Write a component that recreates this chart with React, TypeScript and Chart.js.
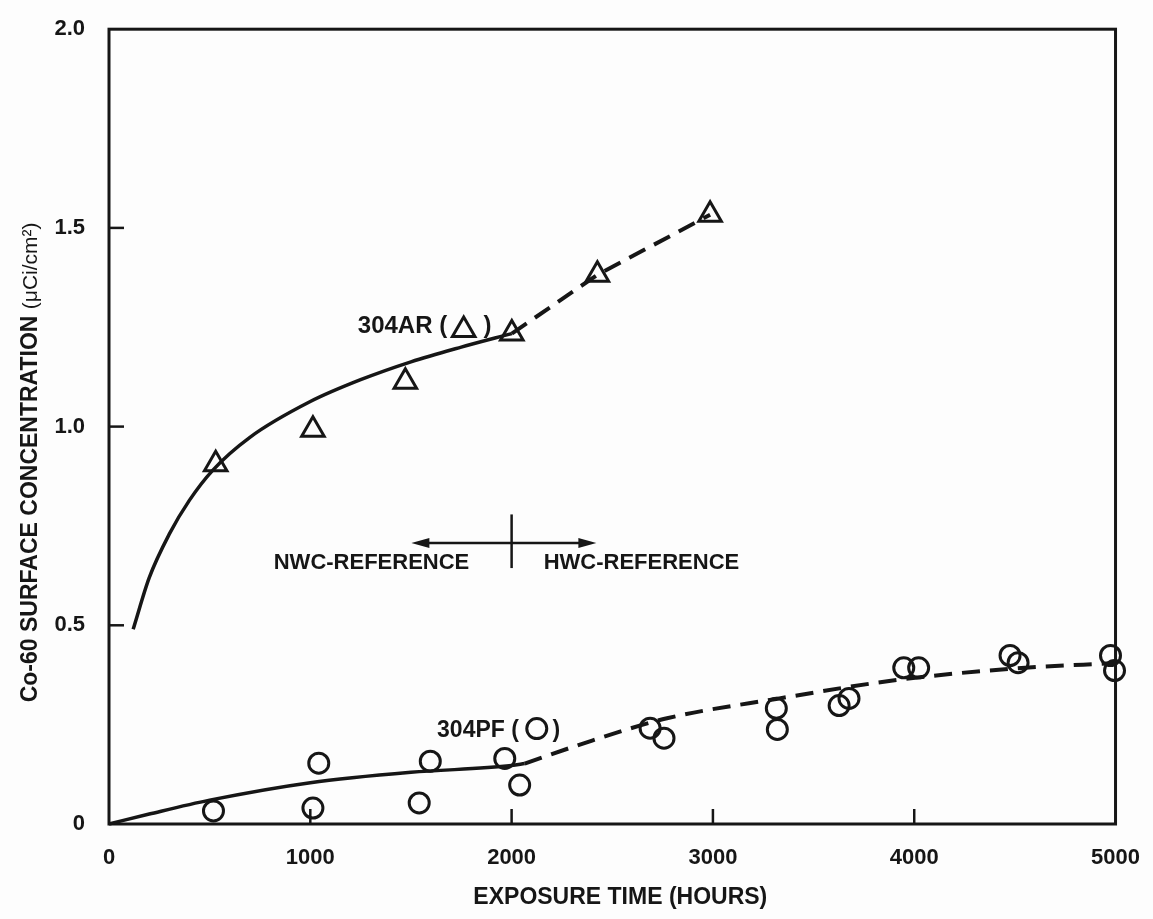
import React, { useEffect, useRef } from "react";
import { Chart, registerables } from "chart.js";

Chart.register(...registerables);

const INK = "#161616";
const FONT = '"Liberation Sans", Arial, sans-serif';

// Axis ticks
const xTickValues = [0, 1000, 2000, 3000, 4000, 5000];
const yTickValues = [0, 0.5, 1.0, 1.5, 2.0];
const xInnerTicks = [1000, 2000, 3000, 4000];
const yInnerTicks = [0.5, 1.0, 1.5];

// 304AR measured points (triangles)
const arHours = [530, 1013, 1472, 2001, 2426, 2986];
const arConc = [0.905, 0.992, 1.113, 1.234, 1.382, 1.533];

// 304AR fitted curve, NWC period (solid)
const arNwcHours = [120, 200, 300, 400, 515, 700, 1000, 1250, 1500, 1750, 2001];
const arNwcConc = [0.49, 0.62, 0.73, 0.815, 0.89, 0.973, 1.063, 1.118, 1.163, 1.2, 1.234];

// 304AR HWC period (dashed)
const arHwcHours = [2001, 2426, 2986];
const arHwcConc = [1.234, 1.382, 1.533];

// 304PF measured points (circles)
const pfHours = [519, 1042, 1013, 1596, 1541, 1966, 2040, 2688, 2757, 3315, 3320, 3627, 3676, 3948, 4022, 4476, 4516, 4975, 4995];
const pfConc = [0.033, 0.153, 0.04, 0.158, 0.053, 0.165, 0.098, 0.241, 0.216, 0.291, 0.238, 0.298, 0.316, 0.393, 0.393, 0.424, 0.406, 0.424, 0.386];

// 304PF fitted curve, NWC period (solid)
const pfNwcHours = [0, 200, 500, 1000, 1500, 2000, 2065];
const pfNwcConc = [0, 0.025, 0.06, 0.104, 0.13, 0.147, 0.152];

// 304PF HWC period (dashed)
const pfHwcHours = [2065, 2400, 2772, 3330, 3893, 4486, 5000];
const pfHwcConc = [0.152, 0.21, 0.266, 0.316, 0.361, 0.391, 0.405];

const toXY = (xs: number[], ys: number[]) => xs.map((x, i) => ({ x, y: ys[i] }));

function drawTriangle(ctx: CanvasRenderingContext2D, cx: number, cy: number, r: number) {
  ctx.beginPath();
  for (let k = 0; k < 3; k++) {
    const a = (k * 2 * Math.PI) / 3;
    const px = cx + Math.sin(a) * r;
    const py = cy - Math.cos(a) * r;
    if (k === 0) ctx.moveTo(px, py);
    else ctx.lineTo(px, py);
  }
  ctx.closePath();
  ctx.stroke();
}

const overlay = {
  id: "overlay",
  beforeDatasetsDraw(chart: any) {
    const { ctx, chartArea: a, scales } = chart;
    const x = scales.x;
    const y = scales.y;
    ctx.save();
    ctx.strokeStyle = INK;
    ctx.lineWidth = 3;
    ctx.strokeRect(a.left, a.top, a.right - a.left, a.bottom - a.top);
    ctx.lineWidth = 2.5;
    for (const v of xInnerTicks) {
      const px = x.getPixelForValue(v);
      ctx.beginPath();
      ctx.moveTo(px, a.bottom);
      ctx.lineTo(px, a.bottom - 15);
      ctx.stroke();
    }
    for (const v of yInnerTicks) {
      const py = y.getPixelForValue(v);
      ctx.beginPath();
      ctx.moveTo(a.left, py);
      ctx.lineTo(a.left + 15, py);
      ctx.stroke();
    }
    ctx.restore();
  },
  afterDatasetsDraw(chart: any) {
    const { ctx, chartArea: a, scales } = chart;
    const x = scales.x;
    const y = scales.y;
    ctx.save();
    ctx.fillStyle = INK;
    ctx.strokeStyle = INK;

    // Y axis title
    {
      const boldPart = "Co-60 SURFACE CONCENTRATION ";
      const lightPart = "(\u03bcCi/cm\u00b2)";
      ctx.save();
      ctx.translate(a.left - 78, y.getPixelForValue(0.91));
      ctx.rotate(-Math.PI / 2);
      ctx.textBaseline = "middle";
      ctx.textAlign = "left";
      ctx.font = `bold 23px ${FONT}`;
      const wb = ctx.measureText(boldPart).width;
      ctx.font = `21px ${FONT}`;
      const wl = ctx.measureText(lightPart).width;
      const start = -(wb + wl) / 2;
      ctx.font = `bold 23px ${FONT}`;
      ctx.fillText(boldPart, start, 0);
      ctx.font = `21px ${FONT}`;
      ctx.fillText(lightPart, start + wb, 0);
      ctx.restore();
    }

    // X axis title
    ctx.font = `bold 23px ${FONT}`;
    ctx.textAlign = "center";
    ctx.textBaseline = "middle";
    ctx.fillText("EXPOSURE TIME (HOURS)", x.getPixelForValue(2540), a.bottom + 74);

    // NWC / HWC reference annotation
    ctx.font = `bold 22px ${FONT}`;
    ctx.fillText("NWC-REFERENCE", x.getPixelForValue(1304), y.getPixelForValue(0.657));
    ctx.fillText("HWC-REFERENCE", x.getPixelForValue(2645), y.getPixelForValue(0.657));
    ctx.lineWidth = 2.5;
    const ay = y.getPixelForValue(0.707);
    const ax1 = x.getPixelForValue(1502);
    const ax2 = x.getPixelForValue(2421);
    ctx.beginPath();
    ctx.moveTo(ax1 + 10, ay);
    ctx.lineTo(ax2 - 10, ay);
    ctx.stroke();
    ctx.beginPath();
    ctx.moveTo(ax1, ay);
    ctx.lineTo(ax1 + 18, ay - 5);
    ctx.lineTo(ax1 + 18, ay + 5);
    ctx.closePath();
    ctx.fill();
    ctx.beginPath();
    ctx.moveTo(ax2, ay);
    ctx.lineTo(ax2 - 18, ay - 5);
    ctx.lineTo(ax2 - 18, ay + 5);
    ctx.closePath();
    ctx.fill();
    const vx = x.getPixelForValue(2000);
    ctx.beginPath();
    ctx.moveTo(vx, y.getPixelForValue(0.779));
    ctx.lineTo(vx, y.getPixelForValue(0.644));
    ctx.stroke();

    // Series labels
    ctx.font = `bold 24px ${FONT}`;
    ctx.textAlign = "right";
    ctx.fillText("304AR (", x.getPixelForValue(1680), y.getPixelForValue(1.253));
    ctx.textAlign = "center";
    ctx.fillText(")", x.getPixelForValue(1880), y.getPixelForValue(1.253));
    ctx.lineWidth = 3;
    drawTriangle(ctx, x.getPixelForValue(1762), y.getPixelForValue(1.243), 13);

    ctx.font = `bold 23px ${FONT}`;
    ctx.textAlign = "right";
    ctx.fillText("304PF (", x.getPixelForValue(2036), y.getPixelForValue(0.236));
    ctx.textAlign = "center";
    ctx.fillText(")", x.getPixelForValue(2222), y.getPixelForValue(0.236));
    ctx.beginPath();
    ctx.arc(x.getPixelForValue(2125), y.getPixelForValue(0.24), 10, 0, Math.PI * 2);
    ctx.stroke();

    ctx.restore();
  },
};

export default function App() {
  const canvasRef = useRef<HTMLCanvasElement | null>(null);

  useEffect(() => {
    if (!canvasRef.current) return;
    const chart = new Chart(canvasRef.current, {
      type: "scatter",
      data: {
        datasets: [
          {
            label: "304AR NWC fit",
            data: toXY(arNwcHours, arNwcConc),
            showLine: true,
            borderColor: INK,
            borderWidth: 3.5,
            pointRadius: 0,
            cubicInterpolationMode: "monotone",
            clip: false,
          },
          {
            label: "304AR HWC",
            data: toXY(arHwcHours, arHwcConc),
            showLine: true,
            borderColor: INK,
            borderWidth: 4,
            borderDash: [18, 10],
            pointRadius: 0,
            clip: false,
          },
          {
            label: "304AR",
            data: toXY(arHours, arConc),
            showLine: false,
            pointStyle: "triangle",
            pointRadius: 13,
            pointBorderWidth: 3,
            pointBorderColor: INK,
            pointBackgroundColor: "rgba(255,255,255,0)",
            clip: false,
          },
          {
            label: "304PF NWC fit",
            data: toXY(pfNwcHours, pfNwcConc),
            showLine: true,
            borderColor: INK,
            borderWidth: 3.5,
            pointRadius: 0,
            cubicInterpolationMode: "monotone",
            clip: false,
          },
          {
            label: "304PF HWC",
            data: toXY(pfHwcHours, pfHwcConc),
            showLine: true,
            borderColor: INK,
            borderWidth: 4,
            borderDash: [18, 10],
            pointRadius: 0,
            cubicInterpolationMode: "monotone",
            clip: false,
          },
          {
            label: "304PF",
            data: toXY(pfHours, pfConc),
            showLine: false,
            pointStyle: "circle",
            pointRadius: 10,
            pointBorderWidth: 3,
            pointBorderColor: INK,
            pointBackgroundColor: "rgba(255,255,255,0)",
            clip: false,
          },
        ],
      },
      options: {
        animation: false,
        responsive: true,
        maintainAspectRatio: false,
        layout: { padding: { top: 26, right: 33, left: 0, bottom: 0 } },
        plugins: {
          legend: { display: false },
          tooltip: { enabled: false },
          title: { display: false },
        },
        scales: {
          x: {
            type: "linear",
            min: 0,
            max: 5000,
            afterBuildTicks: (scale: any) => {
              scale.ticks = xTickValues.map((v) => ({ value: v }));
            },
            afterFit: (scale: any) => {
              scale.height = 95;
            },
            ticks: {
              color: INK,
              padding: 13,
              maxRotation: 0,
              font: { family: FONT, size: 22, weight: "bold" },
              callback: (v: any) => String(v),
            },
            grid: { display: false },
            border: { display: false },
          },
          y: {
            type: "linear",
            min: 0,
            max: 2.0,
            afterBuildTicks: (scale: any) => {
              scale.ticks = yTickValues.map((v) => ({ value: v }));
            },
            afterFit: (scale: any) => {
              scale.width = 109;
            },
            ticks: {
              color: INK,
              padding: 16,
              font: { family: FONT, size: 22, weight: "bold" },
              callback: (v: any) => (Number(v) === 0 ? "0" : Number(v).toFixed(1)),
            },
            grid: { display: false },
            border: { display: false },
          },
        },
      },
      plugins: [overlay],
    } as any);
    return () => chart.destroy();
  }, []);

  return (
    <div style={{ position: "fixed", left: 0, top: 0, width: 1153, height: 919, background: "#fdfdfd" }}>
      <canvas ref={canvasRef} />
    </div>
  );
}
